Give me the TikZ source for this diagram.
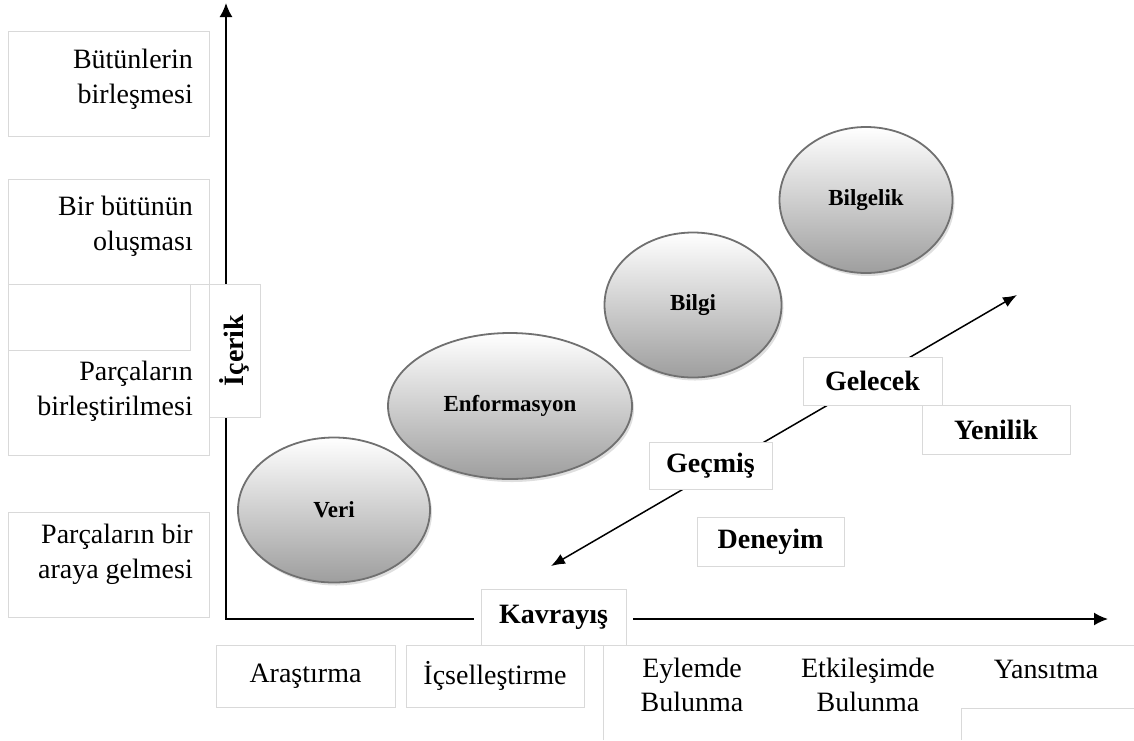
\documentclass[tikz,border=0pt]{standalone}
\usepackage{fontspec}
\setmainfont{Liberation Serif}
\usetikzlibrary{arrows.meta,shapes.geometric,shadows}
\definecolor{paneline}{RGB}{217,217,217}
\definecolor{rimgray}{RGB}{112,112,112}

\begin{document}
\begin{tikzpicture}[x=1pt,y=-1pt,
    pane/.style={draw=paneline, line width=1pt, fill=white, inner sep=0pt},
    plain/.style={font=\fontsize{28}{34}\selectfont, align=center, inner sep=0pt},
    sidetext/.style={font=\fontsize{28}{35}\selectfont, align=right, inner sep=0pt, anchor=east},
    tag/.style={pane, font=\bfseries\fontsize{28}{34}\selectfont},
    blob/.style={ellipse, draw=rimgray, line width=1.8pt, top color=white, bottom color=black!38,
      inner sep=0pt, font=\bfseries\fontsize{23}{27}\selectfont,
      drop shadow={shadow xshift=2pt, shadow yshift=-3pt, opacity=0.25}},
    axis/.style={line width=1.8pt, {Latex[length=14pt,width=13pt]}-{Latex[length=14pt,width=13pt]}},
    trend/.style={line width=1.5pt, {Latex[length=14pt,width=11pt]}-{Latex[length=14pt,width=11pt]}}]
  \useasboundingbox (0,0) rectangle (1134,740);

  % left column
  \node[pane, minimum width=201pt, minimum height=105pt] (whole) at (108.5,83.5) {};
  \node[pane, minimum width=201pt, minimum height=105pt] (form) at (108.5,231.5) {};
  \node[pane, minimum width=201pt, minimum height=105pt] (gather) at (108.5,564.5) {};
  \draw[paneline, line width=1pt] (190,284) -- (190,350) -- (8,350)
    (8,284) -- (8,455) -- (209,455) -- (209,417);
  \node[sidetext] (wholetxt) at (193,79) {Bütünlerin\\birleşmesi};
  \node[sidetext] (formtxt) at (193,226) {Bir bütünün\\oluşması};
  \node[sidetext] (jointxt) at (193,391) {Parçaların\\birleştirilmesi};
  \node[sidetext] (gathertxt) at (193,554) {Parçaların bir\\araya gelmesi};

  % axes
  \coordinate (origin) at (226,619);
  \coordinate (ytip) at (226,3);
  \coordinate (xtip) at (1108,619);
  \draw[axis] (ytip) -- (origin) -- (xtip);
  \node[tag, rotate=90, minimum width=133pt, minimum height=51pt] (icerik) at (234.5,350.5) {İçerik};
  \node[tag, minimum width=145pt, minimum height=56pt,
    preaction={draw=white, line width=14pt}] (kavrayis) at (553.5,617) {Kavrayış};

  % bottom row
  \node[pane, plain, minimum width=179pt, minimum height=62pt] (arastirma) at (305.5,676) {Araştırma};
  \node[pane, plain, minimum width=178pt, minimum height=62pt] (icsel) at (495,676) {İçselleştirme};
  \draw[paneline, line width=1pt] (603,740) -- (603,645) -- (1134,645)
    (961,740) -- (961,708) -- (1134,708);
  \node[plain] (eylem) at (692,685) {Eylemde\\Bulunma};
  \node[plain] (etkilesim) at (868,685) {Etkileşimde\\Bulunma};
  \node[plain] (yansitma) at (1046,669) {Yansıtma};

  % levels
  \node[blob, minimum width=192pt, minimum height=145pt] (veri) at (334,510) {Veri};
  \node[blob, minimum width=244pt, minimum height=146pt] (enfo) at (510,406) {Enformasyon};
  \node[blob, minimum width=177pt, minimum height=145pt] (bilgi) at (693,305) {Bilgi};
  \node[blob, minimum width=173pt, minimum height=146pt] (bilgelik) at (866,200) {Bilgelik};

  % time line
  \coordinate (back) at (551,566);
  \coordinate (ahead) at (1017,295);
  \draw[trend] (back) -- (ahead);
  \node[tag, minimum width=139pt, minimum height=48pt] (gelecek) at (872.5,381) {Gelecek};
  \node[tag, minimum width=148pt, minimum height=49pt] (yenilik) at (996,429.5) {Yenilik};
  \node[tag, minimum width=123pt, minimum height=47pt] (gecmis) at (710.5,465.5) {Geçmiş};
  \node[tag, minimum width=147pt, minimum height=49pt] (deneyim) at (770.5,541.5) {Deneyim};
\end{tikzpicture}
\end{document}
